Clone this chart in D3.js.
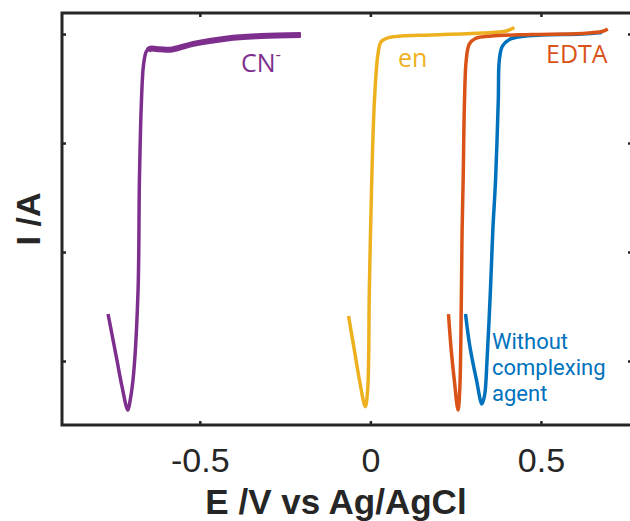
<!DOCTYPE html>
<html>
<head>
<meta charset="utf-8">
<script src="https://cdn.jsdelivr.net/npm/d3@7"></script>
<style>
  html, body { margin: 0; padding: 0; background: #fff; }
  svg { display: block; }
</style>
</head>
<body>
<svg id="chart" width="630" height="521"></svg>
<script>
// ---- data (E in V vs Ag/AgCl, I in arbitrary units) ----
const xTicks = [-0.5, 0, 0.5];
const xTickLabels = ["-0.5", "0", "0.5"];
const yTicks = [-3, -2, -1, 0];

const cnE = [-0.769, -0.743, -0.728, -0.711, -0.704, -0.694, -0.681, -0.677, -0.671, -0.665, -0.656, -0.645, -0.616, -0.581, -0.519, -0.419, -0.321, -0.204];
const cnI = [-2.569, -2.991, -3.236, -3.450, -3.358, -3.113, -2.349, -1.339, -0.606, -0.284, -0.156, -0.135, -0.14, -0.142, -0.09, -0.04, -0.018, -0.009];
// noisy plateau band of the CN⁻ scan
const cnBandE = [-0.652, -0.645, -0.616, -0.581, -0.519, -0.419, -0.321, -0.204];
const cnBandI = [-0.15, -0.135, -0.14, -0.142, -0.09, -0.04, -0.018, -0.009];

const enE = [-0.064, -0.047, -0.032, -0.015, -0.008, -0.003, 0.004, 0.012, 0.022, 0.031, 0.049, 0.090, 0.178, 0.326, 0.399, 0.422];
const enI = [-2.587, -2.899, -3.174, -3.419, -3.266, -2.349, -1.339, -0.606, -0.193, -0.073, -0.037, -0.018, -0.009, 0.009, 0.028, 0.060];

const edtaE = [0.229, 0.237, 0.246, 0.257, 0.262, 0.267, 0.269, 0.272, 0.276, 0.281, 0.290, 0.308, 0.355, 0.473, 0.620, 0.679, 0.696];
const edtaI = [-2.569, -2.899, -3.174, -3.450, -3.266, -2.349, -1.798, -1.339, -0.606, -0.239, -0.092, -0.041, -0.018, -0.005, 0.006, 0.023, 0.046];

const noneE = [0.279, 0.291, 0.311, 0.327, 0.335, 0.342, 0.352, 0.359, 0.367, 0.375, 0.378, 0.387, 0.408, 0.443, 0.502, 0.620, 0.679];
const noneI = [-2.569, -2.853, -3.174, -3.394, -3.312, -2.991, -2.349, -1.798, -1.339, -0.606, -0.239, -0.110, -0.050, -0.023, -0.009, 0.000, 0.014];

const colors = { none: "#0072BD", edta: "#D95319", en: "#EDB120", cn: "#7E2F8E" };

// ---- layout ----
const svg = d3.select("#chart");
const mLeft = 62, mRight = 632, mTop = 13, mBottom = 425;
const x = d3.scaleLinear().domain([-0.904, 0.767]).range([mLeft, mRight]);
const y = d3.scaleLinear().domain([-3.587, 0.193]).range([mBottom, mTop]);
const axisColor = "#262626";

const zip = (a, b) => a.map((v, i) => [v, b[i]]);
const line = d3.line().x(d => x(d[0])).y(d => y(d[1])).curve(d3.curveCatmullRom.alpha(0.5));

function drawSeries(E, I, color, w) {
  svg.append("path").datum(zip(E, I))
    .attr("d", line).attr("fill", "none").attr("stroke", color)
    .attr("stroke-width", w).attr("stroke-linejoin", "round").attr("stroke-linecap", "butt");
}

drawSeries(cnE, cnI, colors.cn, 3.5);
drawSeries(cnBandE, cnBandI, colors.cn, 6);
drawSeries(enE, enI, colors.en, 3.5);
drawSeries(noneE, noneI, colors.none, 3.5);
drawSeries(edtaE, edtaI, colors.edta, 3.5);

// ---- axes (box with inward ticks) ----
const tickLen = 4;
const gB = svg.append("g").attr("transform", `translate(0,${mBottom})`)
  .call(d3.axisBottom(x).tickValues(xTicks).tickSizeInner(-tickLen).tickSizeOuter(0)
        .tickFormat((d, i) => xTickLabels[i]).tickPadding(23));
const gT = svg.append("g").attr("transform", `translate(0,${mTop})`)
  .call(d3.axisTop(x).tickValues(xTicks).tickSizeInner(-tickLen).tickSizeOuter(0).tickFormat(""));
const gL = svg.append("g").attr("transform", `translate(${mLeft},0)`)
  .call(d3.axisLeft(y).tickValues(yTicks).tickSizeInner(-tickLen).tickSizeOuter(0).tickFormat(""));
const gR = svg.append("g").attr("transform", `translate(${mRight},0)`)
  .call(d3.axisRight(y).tickValues(yTicks).tickSizeInner(-tickLen).tickSizeOuter(0).tickFormat(""));

[gB, gT, gL, gR].forEach(g => {
  g.select(".domain").remove();
  g.selectAll(".tick line").attr("stroke", axisColor).attr("stroke-width", 2.5);
});
gB.selectAll(".tick text").attr("fill", axisColor)
  .style("font-family", "'Liberation Sans', Arial, sans-serif").style("font-size", "34px");

svg.append("rect").attr("x", mLeft).attr("y", mTop)
  .attr("width", mRight - mLeft).attr("height", mBottom - mTop)
  .attr("fill", "none").attr("stroke", axisColor).attr("stroke-width", 3);

// ---- axis titles ----
svg.append("text").attr("x", 336).attr("y", 514).attr("text-anchor", "middle")
  .attr("fill", axisColor)
  .style("font-family", "'Liberation Sans', Arial, sans-serif").style("font-weight", "bold").style("font-size", "35px")
  .text("E /V vs Ag/AgCl");
svg.append("text").attr("transform", "translate(40,219) rotate(-90)").attr("text-anchor", "middle")
  .attr("fill", axisColor)
  .style("font-family", "'Liberation Sans', Arial, sans-serif").style("font-weight", "bold").style("font-size", "34px")
  .text("I /A");

// ---- series labels ----
const lblFont = "'Open Sans', 'Noto Sans', sans-serif";
const cnLbl = svg.append("text").attr("x", 241).attr("y", 72).attr("fill", colors.cn)
  .style("font-family", lblFont).style("font-size", "25px");
cnLbl.append("tspan").text("CN");
cnLbl.append("tspan").attr("dy", -12).style("font-size", "17px").text("-");

svg.append("text").attr("x", 398).attr("y", 67).attr("fill", colors.en)
  .style("font-family", lblFont).style("font-size", "25px").text("en");
svg.append("text").attr("x", 546).attr("y", 63).attr("fill", colors.edta)
  .style("font-family", lblFont).style("font-size", "25px").text("EDTA");

["Without", "complexing", "agent"].forEach((t, i) => {
  svg.append("text").attr("x", 492).attr("y", 349 + i * 26).attr("fill", colors.none)
    .style("font-family", "Roboto, 'Open Sans', sans-serif").style("font-size", "22px").text(t);
});
</script>
</body>
</html>
